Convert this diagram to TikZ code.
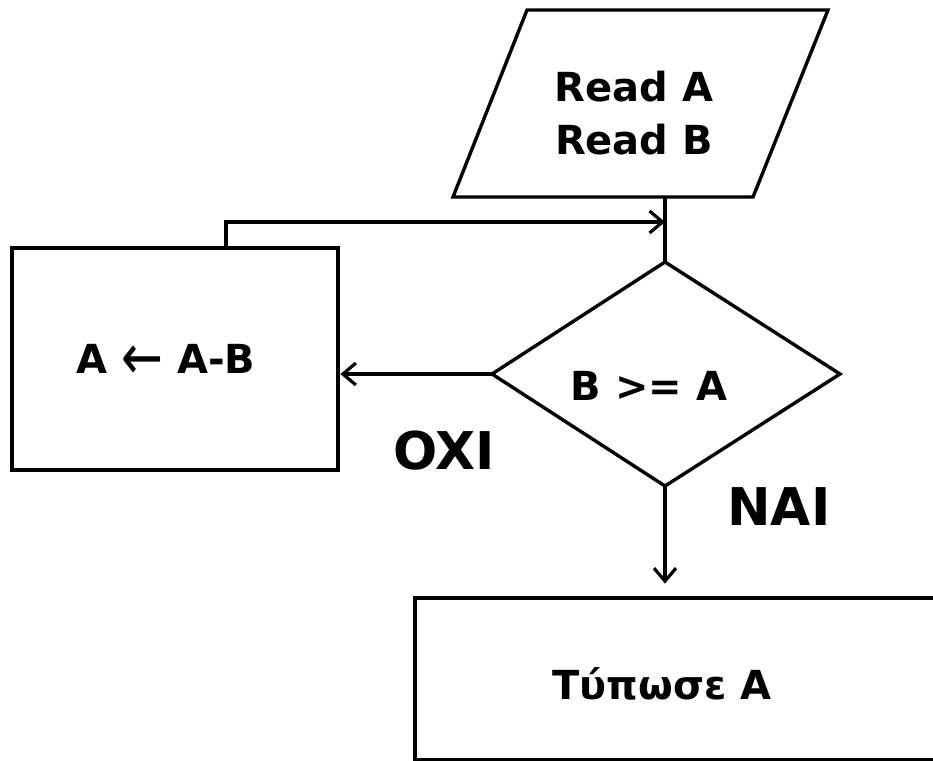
\documentclass[tikz,border=0pt]{standalone}
\usepackage{fontspec}
\setmainfont{DejaVu Sans}
\usetikzlibrary{arrows.meta,calc}
\tikzset{
  box/.style={draw, line width=4.8pt, rectangle, inner sep=0pt},
  shapeline/.style={draw, line width=3.4pt, line join=miter},
  conn/.style={line width=3.4pt},
  arr/.style={conn, -{Straight Barb[length=13pt,width=22pt,line width=3.2pt]}},
  txt/.style={font=\fontsize{40}{53}\selectfont\bfseries, align=center, inner sep=0pt},
  big/.style={font=\fontsize{52}{60}\selectfont\bfseries, inner sep=0pt}
}
\begin{document}
\begin{tikzpicture}[x=1pt,y=-1pt]
\useasboundingbox (0,0) rectangle (933,760);
% input parallelogram
\draw[shapeline] (527,10) -- (828,10) -- (753,197) -- (453,197) -- cycle;
\node[txt] (read) at (634,113) {Read A\\Read B};
\coordinate (pb) at (665,197);
% decision diamond
\coordinate (dT) at (665,262);
\coordinate (dR) at (840,374);
\coordinate (dB) at (665,486);
\coordinate (dL) at (492,374);
\draw[shapeline] (dT) -- (dR) -- (dB) -- (dL) -- cycle;
\node[txt] (cond) at (649,386) {B >= A};
% process box
\node[box, minimum width=326pt, minimum height=222pt] (calc) at (175,359) {};
\node[txt, anchor=base] (calct) at (166,373) {A {\mdseries\raisebox{-0.17em}{\scalebox{1.25}[1.6]{←}}} A-B};
% output box
\node[box, minimum width=535pt, minimum height=162pt] (out) at (682.5,679) {};
\node[txt] (outt) at (662,684) {Τύπωσε Α};
% labels
\node[big] (oxi) at (444,451) {OXI};
\node[big] (nai) at (779,507) {NAI};
% connectors
\coordinate (j) at (665,222);
\coordinate (lp) at (226,248);
\draw[conn] (pb) -- (dT);
\draw[arr] (lp) |- (j);
\draw[arr] (dL) -- (dL -| calc.east);
\draw[arr, shorten >=12pt] (dB) -- (dB |- out.north);
\end{tikzpicture}
\end{document}
